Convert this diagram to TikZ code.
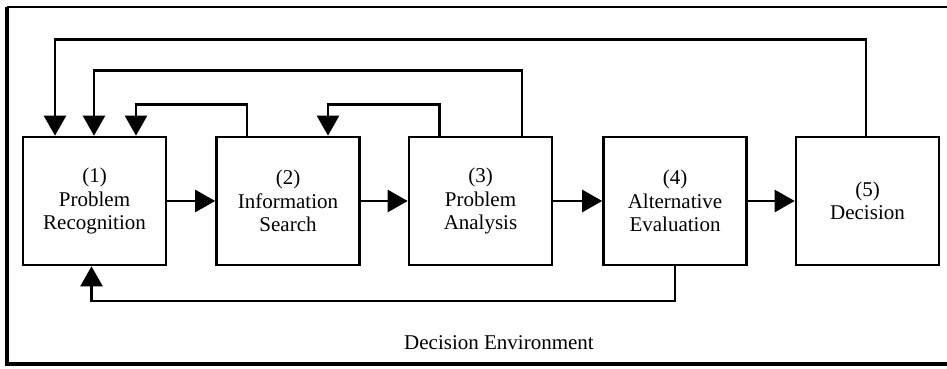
\documentclass[tikz,border=0pt]{standalone}
\usepackage{fontspec}
\setmainfont{Liberation Serif}
\usetikzlibrary{arrows.meta}
\begin{document}
\begin{tikzpicture}[x=1pt,y=1pt,
  stage/.style={draw, line width=2.6pt, minimum width=143pt, minimum height=128pt,
    inner sep=0pt, align=center, font=\fontsize{21}{23.5}\selectfont},
  flow/.style={line width=2.6pt, -{Triangle[length=20pt,width=22pt]}},
  fb/.style={line width=2.4pt, -{Triangle[length=20pt,width=22pt]}}]
\useasboundingbox (0,0) rectangle (947,369);
% environment frame (open on the right)
\draw[line width=2pt] (7,362) -- (947,362);
\draw[line width=3.6pt] (7,362) -- (7,5) -- (947,5);
% the five stages
\node[stage] (b1) at (94.5,168) {(1)\\Problem\\Recognition};
\node[stage] (b2) at (288,168) {(2)\\Information\\Search};
\node[stage] (b3) at (480.5,168) {(3)\\Problem\\Analysis};
\node[stage] (b4) at (675,168) {(4)\\Alternative\\Evaluation};
\node[stage] (b5) at (867.5,168) {(5)\\Decision};
% forward flow
\draw[flow] (b1.east) -- (b2.west);
\draw[flow] (b2.east) -- (b3.west);
\draw[flow] (b3.east) -- (b4.west);
\draw[flow] (b4.east) -- (b5.west);
% feedback loops
\draw[fb] ([xshift=-1.5pt]b5.north) -- ++(0,96) -| ([xshift=-39.5pt]b1.north);
\draw[fb] ([xshift=41.5pt]b3.north) -- ++(0,65) -| ([xshift=-0.5pt]b1.north);
\draw[fb] ([xshift=-41pt]b3.north) -- ++(0,31) -| ([xshift=40pt]b2.north);
\draw[fb] ([xshift=-41pt]b2.north) -- ++(0,31) -| ([xshift=41.5pt]b1.north);
\draw[fb] (b4.south) -- ++(0,-35) -| ([xshift=-3pt]b1.south);
% environment label
\node[font=\fontsize{21}{23.5}\selectfont] (env) at (499,26) {Decision Environment};
\end{tikzpicture}
\end{document}
